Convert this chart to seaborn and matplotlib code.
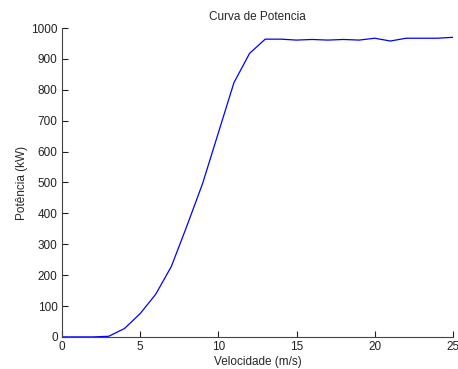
import numpy as np
import pandas as pd
import seaborn as sns
import matplotlib
matplotlib.use("Agg")
import matplotlib.pyplot as plt

# -------- data --------
velocidade = [0, 1, 2, 3, 4, 5, 6, 7, 8, 9, 10, 11, 12, 13,
              14, 15, 16, 17, 18, 19, 20, 21, 22, 23, 24, 25]
potencia = [0, 0, 0, 2, 27, 75, 138, 228, 360, 497, 660, 823, 918, 964,
            964, 961, 963, 961, 963, 961, 967, 958, 967, 967, 967, 970]

df = pd.DataFrame({"v": velocidade, "p": potencia})

sns.set_style("ticks")
plt.rcParams["font.family"] = ["Liberation Sans", "DejaVu Sans"]
plt.rcParams["xtick.direction"] = "in"
plt.rcParams["ytick.direction"] = "in"

fig = plt.figure(figsize=(4.58, 3.69), dpi=100)
ax = fig.add_axes([0.135, 0.087, 0.854, 0.837])

sns.lineplot(data=df, x="v", y="p", ax=ax, color="#0000FF", linewidth=0.9)

ax.set_xlim(0, 25)
ax.set_ylim(0, 1000)
ax.set_xticks([0, 5, 10, 15, 20, 25])
ax.set_yticks(range(0, 1001, 100))
ax.tick_params(labelsize=8.5, length=4, width=0.8, colors="#222222", pad=3)
for s in ["top", "right"]:
    ax.spines[s].set_visible(False)
for s in ["left", "bottom"]:
    ax.spines[s].set_linewidth(0.8)
    ax.spines[s].set_color("#444444")

ax.set_title("Curva de Potencia", fontsize=8.5, pad=6)
ax.set_xlabel("Velocidade (m/s)", fontsize=8.5, labelpad=2)
ax.set_ylabel("Potência (kW)", fontsize=8.5, labelpad=2)

fig.savefig("out.png", dpi=100)
